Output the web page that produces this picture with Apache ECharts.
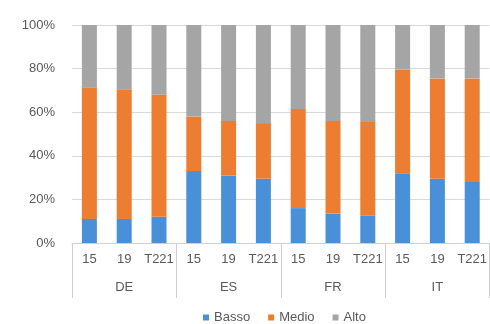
<!DOCTYPE html>
<html>
<head>
<meta charset="utf-8">
<script src="https://cdn.jsdelivr.net/npm/echarts@6/dist/echarts.min.js"></script>
<style>
  html, body { margin: 0; padding: 0; background: #ffffff; }
  #chart { width: 490px; height: 324px; }
</style>
</head>
<body>
<div id="chart"></div>
<script>
// Country groups and the periods shown inside each group
const countries = ['DE', 'ES', 'FR', 'IT'];
const periods = ['15', '19', 'T221'];

// Share of each level (percent), one value per country/period bar
const basso = [11, 11, 12,   33, 31, 29.5,   16, 13.5, 12.5,   32, 29.5, 28];
const medio = [60.5, 59.5, 56,   25, 25, 25.5,   45.5, 42.5, 43,   47.5, 46, 47.5];
const alto  = [28.5, 29.5, 32,   42, 44, 45,   38.5, 44, 44.5,   20.5, 24.5, 24.5];

const yTicks = [0, 20, 40, 60, 80, 100];

// Flattened inner category list: every period repeated for each country
const innerCats = [];
countries.forEach(function (c) {
  periods.forEach(function (p) { innerCats.push(c + '|' + p); });
});

const textColor = '#595959';
const font = 'Liberation Sans, Arial, sans-serif';

function barSeries(name, data, color) {
  return {
    name: name,
    type: 'bar',
    stack: 'total',
    data: data,
    barWidth: 15,
    itemStyle: { color: color },
    emphasis: { disabled: true }
  };
}

const chart = echarts.init(document.getElementById('chart'), null, { renderer: 'canvas' });
chart.setOption({
  animation: false,
  backgroundColor: '#ffffff',
  grid: { left: 72, right: 0, top: 25, bottom: 81, containLabel: false },
  legend: {
    data: ['Basso', 'Medio', 'Alto'],
    left: 198,
    top: 306,
    icon: 'rect',
    itemWidth: 6,
    itemHeight: 6,
    itemGap: 18,
    textStyle: { color: textColor, fontSize: 13, fontFamily: font }
  },
  xAxis: [
    {
      type: 'category',
      data: innerCats,
      position: 'bottom',
      axisLine: { show: true, lineStyle: { color: '#d0d0d0', width: 1 } },
      axisTick: { show: false },
      axisLabel: {
        color: textColor,
        fontSize: 13,
        fontFamily: font,
        margin: 10,
        interval: 0,
        formatter: function (v) { return v.split('|')[1]; }
      },
      splitLine: { show: false }
    },
    {
      type: 'category',
      data: countries,
      position: 'bottom',
      offset: 0,
      axisLine: { show: false },
      axisTick: {
        show: true,
        length: 55,
        interval: 0,
        lineStyle: { color: '#d0d0d0', width: 1 }
      },
      axisLabel: {
        color: textColor,
        fontSize: 13,
        fontFamily: font,
        margin: 38,
        interval: 0
      }
    }
  ],
  yAxis: {
    type: 'value',
    min: yTicks[0],
    max: yTicks[yTicks.length - 1],
    interval: 20,
    axisLine: { show: false },
    axisTick: { show: false },
    axisLabel: {
      color: textColor,
      fontSize: 13,
      fontFamily: font,
      margin: 17,
      formatter: '{value}%'
    },
    splitLine: { lineStyle: { color: '#d9d9d9', width: 1 } }
  },
  series: [
    barSeries('Basso', basso, '#4a90d9'),
    barSeries('Medio', medio, '#ed7d31'),
    barSeries('Alto', alto, '#a5a5a5')
  ]
});
</script>
</body>
</html>
